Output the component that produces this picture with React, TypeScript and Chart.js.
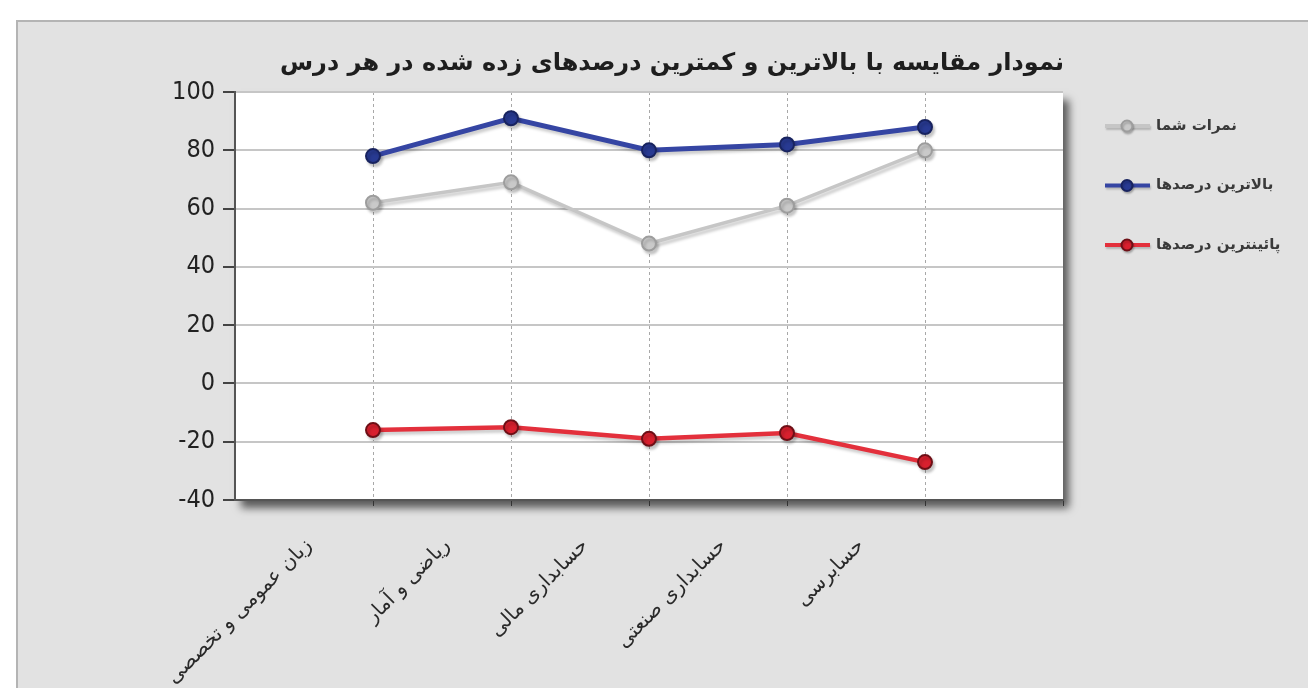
import React, { useEffect, useRef } from 'react';
import { Chart, registerables } from 'chart.js';

Chart.register(...registerables);

const chartTitle = 'نمودار مقایسه با بالاترین و کمترین درصدهای زده شده در هر درس';
const categories = ['زبان عمومی و تخصصی', 'ریاضی و آمار', 'حسابداری مالی', 'حسابداری صنعتی', 'حسابرسی'];
const seriesNames = ['نمرات شما', 'بالاترین درصدها', 'پائینترین درصدها'];
const yourScores = [62, 69, 48, 61, 80];
const highestScores = [78, 91, 80, 82, 88];
const lowestScores = [-16, -15, -19, -17, -27];
const yMin = -40;
const yMax = 100;
const yStep = 20;

const lineColors = ['#c6c6c6', '#3545a3', '#e3303c'];
const pointFills = ['#c9c9c9', '#283a92', '#d8202e'];
const pointBorders = ['#9d9d9d', '#18235f', '#6e0f16'];
const lineWidths = [3.5, 5, 4.5];

const W = 1308;
const H = 688;

export default function App() {
  const ref = useRef<HTMLCanvasElement | null>(null);

  useEffect(() => {
    if (!ref.current) return;
    const toPts = (arr: number[]) => arr.map((v, i) => ({ x: i + 1, y: v }));
    const seriesValues = [yourScores, highestScores, lowestScores];

    const bgPlugin = {
      id: 'bg',
      beforeDraw(chart: any) {
        const { ctx, chartArea } = chart;
        ctx.save();
        ctx.fillStyle = '#ffffff';
        ctx.fillRect(0, 0, W, H);
        ctx.fillStyle = '#e2e2e2';
        ctx.fillRect(16, 20, W - 16, H - 20);
        ctx.strokeStyle = '#b4b4b4';
        ctx.lineWidth = 2;
        ctx.beginPath();
        ctx.moveTo(17, H);
        ctx.lineTo(17, 21);
        ctx.lineTo(W, 21);
        ctx.stroke();
        ctx.shadowColor = 'rgba(0,0,0,0.6)';
        ctx.shadowBlur = 8;
        ctx.shadowOffsetX = 6;
        ctx.shadowOffsetY = 8;
        ctx.fillStyle = '#ffffff';
        ctx.fillRect(chartArea.left, chartArea.top, chartArea.right - chartArea.left, chartArea.bottom - chartArea.top);
        ctx.restore();
      },
      beforeDatasetDraw(chart: any) {
        const ctx = chart.ctx;
        ctx.save();
        ctx.shadowColor = 'rgba(0,0,0,0.2)';
        ctx.shadowBlur = 3;
        ctx.shadowOffsetX = 2;
        ctx.shadowOffsetY = 3;
      },
      afterDatasetDraw(chart: any) {
        chart.ctx.restore();
      },
      afterDraw(chart: any) {
        const { ctx } = chart;
        ctx.save();
        ctx.fillStyle = '#1e1e1e';
        ctx.font = "bold 24px 'DejaVu Sans'";
        ctx.textAlign = 'center';
        ctx.textBaseline = 'middle';
        ctx.fillText(chartTitle, 672, 64);
        seriesNames.forEach((name, i) => {
          const y = 126 + i * 59.5;
          ctx.shadowColor = 'rgba(0,0,0,0.2)';
          ctx.shadowBlur = 2;
          ctx.shadowOffsetX = 1;
          ctx.shadowOffsetY = 2;
          ctx.strokeStyle = lineColors[i];
          ctx.lineWidth = 4;
          ctx.beginPath();
          ctx.moveTo(1105, y);
          ctx.lineTo(1150, y);
          ctx.stroke();
          ctx.beginPath();
          ctx.arc(1127, y, 5.5, 0, Math.PI * 2);
          ctx.fillStyle = pointFills[i];
          ctx.fill();
          ctx.lineWidth = 2;
          ctx.strokeStyle = pointBorders[i];
          ctx.stroke();
          ctx.shadowColor = 'rgba(0,0,0,0)';
          ctx.fillStyle = '#3a3a3a';
          ctx.font = "bold 15px 'DejaVu Sans'";
          ctx.textAlign = 'left';
          ctx.textBaseline = 'middle';
          ctx.fillText(name, 1156, y);
        });
        ctx.restore();
      },
    };

    const chart = new Chart(ref.current, {
      type: 'line',
      data: {
        datasets: seriesNames.map((name, i) => ({
          label: name,
          data: toPts(seriesValues[i]),
          borderColor: lineColors[i],
          backgroundColor: pointFills[i],
          borderWidth: lineWidths[i],
          pointRadius: 7,
          pointBorderWidth: 2,
          pointBackgroundColor: pointFills[i],
          pointBorderColor: pointBorders[i],
          tension: 0,
          fill: false,
        })),
      },
      options: {
        animation: false,
        responsive: false,
        maintainAspectRatio: false,
        layout: { padding: { left: 150, top: 92, right: 245, bottom: 0 } },
        plugins: {
          legend: { display: false },
          title: { display: false },
          tooltip: { enabled: false },
        },
        scales: {
          x: {
            type: 'linear',
            min: 0,
            max: categories.length + 1,
            afterBuildTicks: (s: any) => {
              s.ticks = categories.map((_, i) => ({ value: i + 1 })).concat([{ value: categories.length + 1 }]);
            },
            afterFit: (s: any) => {
              s.height = 188;
            },
            ticks: {
              autoSkip: false,
              maxRotation: 45,
              minRotation: 45,
              labelOffset: -64,
              padding: 28,
              color: '#2a2a2a',
              font: { family: "'DejaVu Sans'", size: 20 },
              callback: (v: any) => categories[Number(v) - 1] ?? '',
            },
            grid: {
              color: (c: any) => (c.tick && c.tick.value === categories.length + 1 ? 'rgba(0,0,0,0)' : '#a8a8a8'),
              lineWidth: 1,
              tickColor: '#333',
              tickLength: 6,
              tickBorderDash: [],
            },
            border: { color: '#555', width: 2, dash: [3, 3] },
          },
          y: {
            min: yMin,
            max: yMax,
            afterFit: (s: any) => {
              s.width = 85;
            },
            ticks: {
              stepSize: yStep,
              padding: 8,
              color: '#222',
              font: { family: "'DejaVu Sans Condensed', 'DejaVu Sans'", size: 25 },
            },
            grid: {
              color: '#c6c6c6',
              lineWidth: 2,
              tickColor: '#444',
              tickLength: 12,
            },
            border: { color: '#555', width: 2 },
          },
        },
      },
      plugins: [bgPlugin],
    } as any);
    return () => chart.destroy();
  }, []);

  return (
    <div style={{ position: 'fixed', left: 0, top: 0, width: W, height: H }}>
      <canvas ref={ref} width={W} height={H} style={{ display: 'block' }} />
    </div>
  );
}
